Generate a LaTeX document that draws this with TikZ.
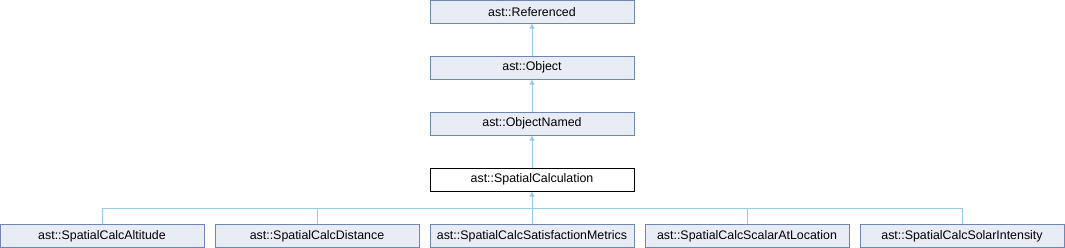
\documentclass[tikz,border=0pt]{standalone}
\usepackage{fontspec}
\setmainfont{Liberation Sans}
\usetikzlibrary{arrows.meta}
\definecolor{boxfill}{RGB}{232,236,244}
\definecolor{boxline}{RGB}{112,133,180}
\definecolor{conn}{RGB}{152,200,232}
\begin{document}
\begin{tikzpicture}[x=1pt,y=-1pt,
  cls/.style={draw=boxline,fill=boxfill,line width=0.9pt,minimum width=204pt,minimum height=23pt,inner sep=0pt,font=\fontsize{12.4}{14}\selectfont},
  cur/.style={draw=black,fill=white,line width=0.9pt,minimum width=204pt,minimum height=23pt,inner sep=0pt,font=\fontsize{12.4}{14}\selectfont},
  inh/.style={draw=conn,line width=0.9pt,-{Triangle[length=5pt,width=5pt]}}]
\useasboundingbox (0,0) rectangle (1065,248);
\node[cls] (ref) at (532,11.75) {ast::Referenced};
\node[cls] (obj) at (532,67.75) {ast::Object};
\node[cls] (objn) at (532,123.75) {ast::ObjectNamed};
\node[cur] (sc) at (532,179.75) {ast::SpatialCalculation};
\node[cls] (alt) at (102,236) {ast::SpatialCalcAltitude};
\node[cls] (dist) at (317,236) {ast::SpatialCalcDistance};
\node[cls] (sat) at (532,236) {ast::SpatialCalcSatisfactionMetrics};
\node[cls] (scal) at (747,236) {ast::SpatialCalcScalarAtLocation};
\node[cls] (sol) at (962,236) {ast::SpatialCalcSolarIntensity};
\coordinate (bus) at (532,208.5);
\draw[inh] (obj) -- (ref);
\draw[inh] (objn) -- (obj);
\draw[inh] (sat) -- (sc);
\draw[conn,line width=0.9pt] (alt.north) |- (bus) -| (sol.north);
\draw[conn,line width=0.9pt] (dist.north) |- (bus) -| (scal.north);
\draw[inh] (sc) -- (objn);
\end{tikzpicture}
\end{document}
